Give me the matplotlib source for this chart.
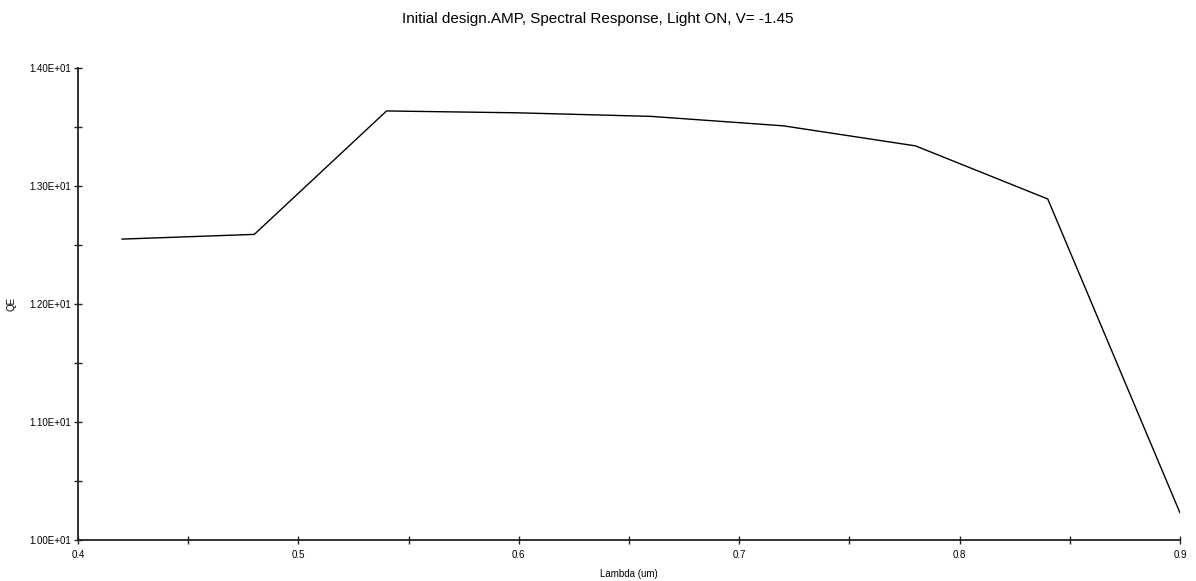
import matplotlib
matplotlib.use("Agg")
import matplotlib.pyplot as plt
from matplotlib.ticker import MultipleLocator, FormatStrFormatter

plt.rcParams['font.family'] = ['Liberation Sans', 'DejaVu Sans']

# Spectral response values
wavelength = [0.42, 0.48, 0.54, 0.60, 0.66, 0.72, 0.78, 0.84, 0.90]
qe = [12.55, 12.59, 13.636, 13.62, 13.59, 13.51, 13.34, 12.89, 10.23]

x_ticks = [0.4, 0.5, 0.6, 0.7, 0.8, 0.9]
y_ticks = [10.0, 11.0, 12.0, 13.0, 14.0]

fig = plt.figure(figsize=(11.96, 5.81), dpi=100)
ax = fig.add_axes([78 / 1196, 1 - 540 / 581, 1102 / 1196, 472 / 581])

ax.plot(wavelength, qe, color='black', linewidth=1.0)

ax.set_xlim(0.4, 0.9)
ax.set_ylim(10.0, 14.0)
ax.set_xticks(x_ticks)
ax.set_yticks(y_ticks)
ax.xaxis.set_major_formatter(FormatStrFormatter('%.1f'))
ax.yaxis.set_major_formatter(lambda v, pos: '%.2E' % v)
ax.xaxis.set_minor_locator(MultipleLocator(0.05))
ax.yaxis.set_minor_locator(MultipleLocator(0.5))

for side in ['top', 'right']:
    ax.spines[side].set_visible(False)
for side in ['left', 'bottom']:
    ax.spines[side].set_linewidth(1.3)
    ax.spines[side].set_color('#222222')

ax.tick_params(which='both', direction='inout', length=6, width=1, colors='#222222',
               labelsize=7, labelcolor='black', pad=2)
ax.tick_params(axis='x', pad=4)

ax.set_xlabel('Lambda (um)', fontsize=7, labelpad=7)
ax.set_ylabel('QE', fontsize=7, labelpad=9)

fig.suptitle('Initial design.AMP, Spectral Response, Light ON, V= -1.45',
             fontsize=11, x=0.5, y=0.98)

fig.savefig('out.png', dpi=100)
